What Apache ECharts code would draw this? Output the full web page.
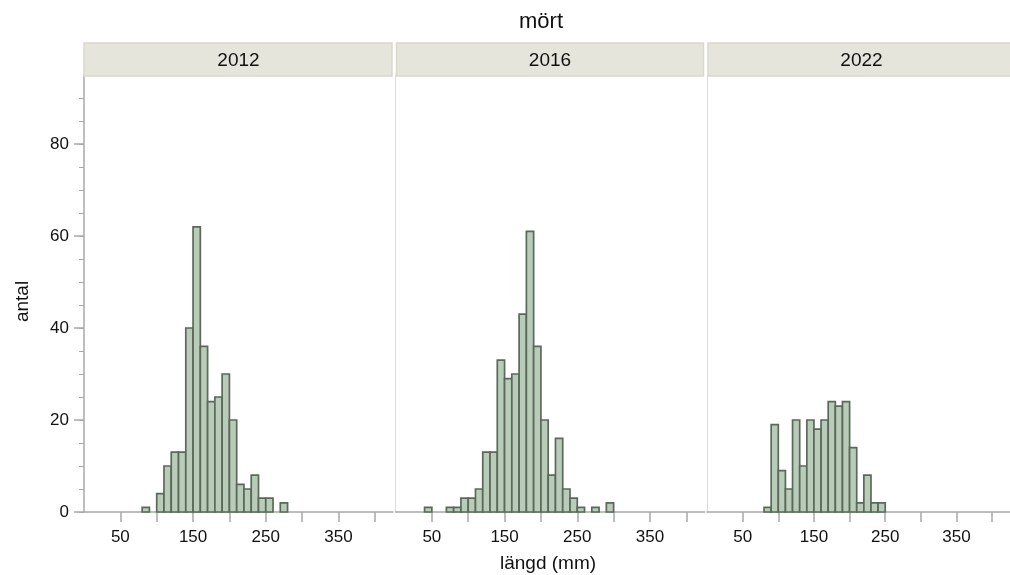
<!DOCTYPE html>
<html>
<head>
<meta charset="utf-8">
<title>mört</title>
<script src="https://cdn.jsdelivr.net/npm/echarts@6/dist/echarts.min.js"></script>
<style>
  html, body { margin: 0; padding: 0; background: #ffffff; }
  #chart { width: 1010px; height: 575px; }
</style>
</head>
<body>
<div id="chart"></div>
<script>
// Length-frequency of roach (mört), 10 mm bins, one panel per survey year
const years = ['2012', '2016', '2022'];
const binStarts = [40, 50, 60, 70, 80, 90, 100, 110, 120, 130, 140, 150, 160,
                   170, 180, 190, 200, 210, 220, 230, 240, 250, 260, 270, 280, 290];
const counts2012 = [0, 0, 0, 0, 1, 0, 4, 10, 13, 13, 40, 62, 36,
                    24, 25, 30, 20, 6, 5, 8, 3, 3, 0, 2, 0, 0];
const counts2016 = [1, 0, 0, 1, 1, 3, 3, 5, 13, 13, 33, 29, 30,
                    43, 61, 36, 20, 8, 16, 5, 3, 1, 0, 1, 0, 2];
const counts2022 = [0, 0, 0, 0, 1, 19, 9, 5, 20, 10, 20, 18, 20,
                    24, 23, 24, 14, 2, 8, 2, 2, 0, 0, 0, 0, 0];
const countsByYear = [counts2012, counts2016, counts2022];
const binWidth = 10;

// Axis tick values
const xTickValues = [50, 100, 150, 200, 250, 300, 350, 400];
const xLabelValues = [50, 150, 250, 350];
const yLabelValues = [0, 20, 40, 60, 80];
const yMinorValues = [0, 5, 10, 15, 20, 25, 30, 35, 40, 45, 50, 55, 60, 65, 70, 75, 80, 85, 90];

// Layout
const panelLefts = [84, 395.5, 707];
const panelWidth = 309;
const plotTop = 75;
const plotHeight = 437;
const headerTop = 43;
const headerHeight = 33;
const X_MIN = 0, X_MAX = 425, Y_MAX = 95;

const FONT = '"Liberation Sans", Arial, Helvetica, sans-serif';
const AXIS_COLOR = '#a8a8a8';
const BAR_FILL = '#b9cbb9';
const BAR_STROKE = '#5a695a';

const chart = echarts.init(document.getElementById('chart'), null, { renderer: 'canvas' });

const grids = panelLefts.map(left => ({
  left: left, top: plotTop, width: panelWidth, height: plotHeight, containLabel: false
}));

const xAxes = years.map((y, i) => ({
  type: 'value', gridIndex: i, min: X_MIN, max: X_MAX,
  splitLine: { show: false },
  axisLine: { show: true, lineStyle: { color: AXIS_COLOR, width: 1.5 } },
  axisTick: { show: true, customValues: xTickValues, length: 10, inside: false,
              lineStyle: { color: AXIS_COLOR, width: 1.5 } },
  axisLabel: { show: true, customValues: xLabelValues, margin: 17,
               fontFamily: FONT, fontSize: 17, color: '#111' }
}));

const yAxes = years.map((y, i) => ({
  type: 'value', gridIndex: i, min: 0, max: Y_MAX,
  splitLine: { show: false },
  axisLine: { show: true, lineStyle: { color: i === 0 ? AXIS_COLOR : '#dcdcdc', width: i === 0 ? 1.5 : 1 } },
  axisTick: { show: i === 0, customValues: yLabelValues, length: 10,
              lineStyle: { color: AXIS_COLOR, width: 1.5 } },
  axisLabel: { show: i === 0, customValues: yLabelValues, margin: 15,
               fontFamily: FONT, fontSize: 17, color: '#111' }
}));
// minor ticks on the shared count axis
yAxes.push({
  type: 'value', gridIndex: 0, min: 0, max: Y_MAX, position: 'left',
  splitLine: { show: false },
  axisLine: { show: false },
  axisTick: { show: true, customValues: yMinorValues, length: 5,
              lineStyle: { color: AXIS_COLOR, width: 1 } },
  axisLabel: { show: false }
});

function renderBar(params, api) {
  const x0 = api.value(0);
  const n = api.value(1);
  const topLeft = api.coord([x0, n]);
  const bottomRight = api.coord([x0 + binWidth, 0]);
  return {
    type: 'rect',
    shape: { x: topLeft[0], y: topLeft[1], width: bottomRight[0] - topLeft[0], height: bottomRight[1] - topLeft[1] },
    style: { fill: BAR_FILL, stroke: BAR_STROKE, lineWidth: 1.7 }
  };
}

const series = years.map((y, i) => ({
  type: 'custom', name: y, xAxisIndex: i, yAxisIndex: i,
  renderItem: renderBar,
  data: binStarts.map((b, k) => [b, countsByYear[i][k]]).filter(d => d[1] > 0),
  clip: false
}));

// Panel headers, title and axis names
const graphics = [];
years.forEach((y, i) => {
  graphics.push({
    type: 'rect', z: 10,
    shape: { x: panelLefts[i] + (i === 0 ? 0 : 1), y: headerTop,
             width: panelWidth - (i === 0 ? 1 : 2) + (i === 2 ? 20 : 0), height: headerHeight },
    style: { fill: '#e6e5dc', stroke: '#d9d9cb', lineWidth: 1.5 }
  });
  graphics.push({
    type: 'text', z: 11,
    x: panelLefts[i] + panelWidth / 2, y: headerTop + headerHeight / 2 + 1,
    style: { text: y, font: '19px ' + FONT, fill: '#111', align: 'center', verticalAlign: 'middle' }
  });
});
const plotCenter = (panelLefts[0] + panelLefts[2] + panelWidth) / 2;
graphics.push({
  type: 'text', x: plotCenter - 9, y: 22,
  style: { text: 'mört', font: '22px ' + FONT, fill: '#111', align: 'center', verticalAlign: 'middle' }
});
graphics.push({
  type: 'text', x: plotCenter - 2, y: 564,
  style: { text: 'längd (mm)', font: '19px ' + FONT, fill: '#111', align: 'center', verticalAlign: 'middle' }
});
graphics.push({
  type: 'text', x: 23, y: plotTop + plotHeight / 2 + 8, rotation: Math.PI / 2,
  style: { text: 'antal', font: '19px ' + FONT, fill: '#111', align: 'center', verticalAlign: 'middle' }
});

chart.setOption({
  backgroundColor: '#ffffff',
  animation: false,
  grid: grids,
  xAxis: xAxes,
  yAxis: yAxes,
  series: series,
  graphic: graphics
});
</script>
</body>
</html>
